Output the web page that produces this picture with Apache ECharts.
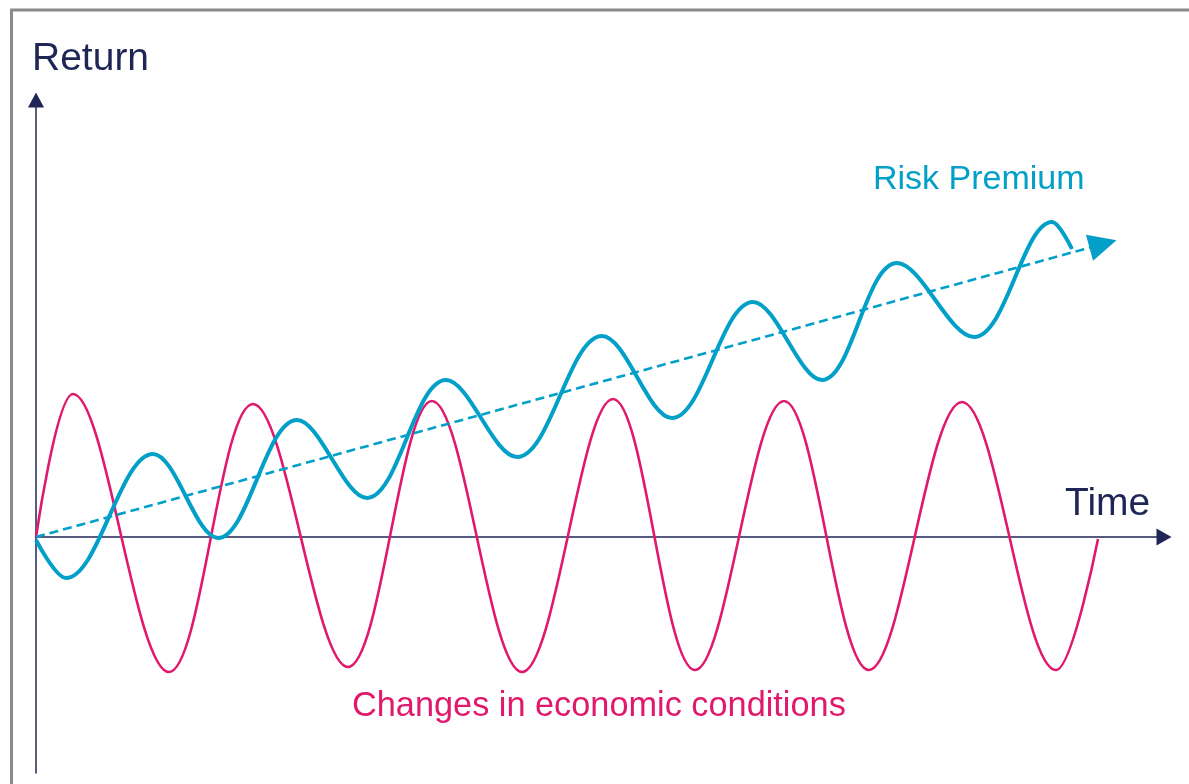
<!DOCTYPE html>
<html>
<head>
<meta charset="utf-8">
<title>Risk Premium</title>
<script src="https://cdn.jsdelivr.net/npm/echarts@6/dist/echarts.min.js"></script>
<style>
  html, body { margin: 0; padding: 0; background: #ffffff; }
  #chart { width: 1189px; height: 784px; }
</style>
</head>
<body>
<div id="chart"></div>
<script>
// Economic cycle: [time, return] at start, each peak / trough, and end
const economicCycle = [
  [0, 0], [3.7, 14.3], [13.3, -13.5], [21.7, 13.3], [31.2, -13.0],
  [39.6, 13.6], [48.6, -13.5], [57.7, 13.8], [65.9, -13.3], [74.8, 13.6],
  [83.3, -13.3], [92.6, 13.5], [102.0, -13.3], [106.2, -0.2]
];

// Return path oscillating around the rising premium: start, peaks / troughs, end
const returnPath = [
  [0, -0.3], [3.0, -4.1], [11.7, 8.3], [18.2, -0.1], [26.1, 11.7], [33.1, 3.9],
  [41.0, 15.7], [48.1, 8.0], [56.6, 20.1], [63.6, 11.9], [71.7, 23.5], [78.6, 15.7],
  [86.1, 27.4], [93.8, 20.0], [101.6, 31.5], [103.6, 28.8]
];

// Trend line of the risk premium: start and arrow head centre
const premiumTrend = [[0, 0], [106.7, 29.3]];

const NAVY = '#1f2656';
const BLUE = '#02a0c8';
const PINK = '#e0196d';
const FONT = '"Liberation Sans", Arial, sans-serif';
// bezier handle factor that makes extremum-to-extremum segments sine-like
const WAVE_SMOOTH = 0.363;

const chart = echarts.init(document.getElementById('chart'), null, { renderer: 'canvas' });

const hiddenAxisParts = {
  axisTick: { show: false },
  axisLabel: { show: false },
  splitLine: { show: false }
};

chart.setOption({
  animation: false,
  backgroundColor: '#ffffff',
  grid: { left: 36, right: 25, top: 100, bottom: 11 },
  xAxis: Object.assign({
    type: 'value',
    min: 0,
    max: 112.8,
    axisLine: {
      onZero: true,
      symbol: ['none', 'triangle'],
      symbolSize: [17, 15],
      lineStyle: { color: NAVY, width: 1.5 }
    }
  }, hiddenAxisParts),
  yAxis: Object.assign({
    type: 'value',
    min: -23.6,
    max: 43.7,
    axisLine: {
      onZero: false,
      symbol: ['none', 'triangle'],
      symbolSize: [16, 15],
      lineStyle: { color: NAVY, width: 1.5 }
    }
  }, hiddenAxisParts),
  series: [
    {
      name: 'Changes in economic conditions',
      type: 'line',
      data: economicCycle,
      smooth: WAVE_SMOOTH,
      showSymbol: false,
      lineStyle: { color: PINK, width: 2.6 },
      z: 2
    },
    {
      name: 'Risk Premium trend',
      type: 'line',
      data: [],
      markLine: {
        silent: true,
        symbol: ['none', 'triangle'],
        symbolSize: [27, 28],
        label: { show: false },
        lineStyle: { color: BLUE, width: 2.6, type: [9, 5] },
        data: [[{ coord: premiumTrend[0] }, { coord: premiumTrend[1] }]]
      },
      z: 3
    },
    {
      name: 'Risk Premium',
      type: 'line',
      data: returnPath,
      smooth: WAVE_SMOOTH,
      showSymbol: false,
      lineStyle: { color: BLUE, width: 4 },
      z: 4
    }
  ],
  graphic: [
    {
      type: 'rect',
      shape: { x: 11.5, y: 10, width: 1200, height: 800 },
      style: { fill: 'none', stroke: '#8a8a8a', lineWidth: 3 },
      silent: true
    },
    {
      type: 'text', x: 32, y: 59,
      style: { text: 'Return', fill: NAVY, font: '39px ' + FONT, textVerticalAlign: 'middle' }
    },
    {
      type: 'text', x: 1065, y: 504,
      style: { text: 'Time', fill: NAVY, font: '39px ' + FONT, textVerticalAlign: 'middle' }
    },
    {
      type: 'text', x: 873, y: 180,
      style: { text: 'Risk Premium', fill: BLUE, font: '34px ' + FONT, textVerticalAlign: 'middle' }
    },
    {
      type: 'text', x: 352, y: 707,
      style: { text: 'Changes in economic conditions', fill: PINK, font: '34.3px ' + FONT, textVerticalAlign: 'middle' }
    }
  ]
});
</script>
</body>
</html>
